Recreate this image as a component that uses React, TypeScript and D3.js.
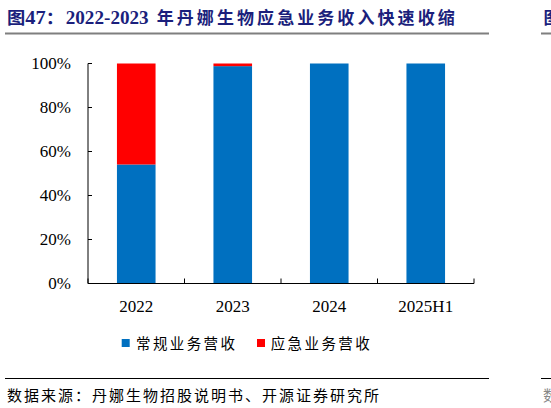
import React from "react";
import * as d3 from "d3";

const categories = ["2022", "2023", "2024", "2025H1"];
const regularShare = [54.1, 98.8, 100, 100];
const emergencyShare = [45.9, 1.2, 0, 0];
const yTicks = [0, 20, 40, 60, 80, 100];
const seriesNames = ["常规业务营收", "应急业务营收"];
const seriesColors = ["#0070C0", "#FF0000"];

const W = 551;
const H = 408;
const serif = "'Liberation Serif', 'Times New Roman', serif";
const cjk = "'Noto Sans CJK SC', 'Noto Sans', sans-serif";

export default function App() {
  const x = d3.scaleBand<string>().domain(categories).range([88, 474]).padding(0);
  const y = d3.scaleLinear().domain([0, 100]).range([283.5, 63.5]);
  const rows = categories.map((c, i) => ({ cat: c, regular: regularShare[i], emergency: emergencyShare[i] }));
  const stack = d3.stack<any>().keys(["regular", "emergency"]);
  const layers = stack(rows);
  const bw = x.bandwidth() * 0.4;
  const boundaries = [...categories.map((c) => x(c) as number), 474];

  return (
    <svg width={W} height={H} style={{ position: "fixed", left: 0, top: 0, background: "#fff" }}>
      <rect x={0} y={0} width={W} height={H} fill="#fff" />
      {/* Title */}
      <text x={7} y={23.5} fill="#1B1F7C" fontFamily={cjk} fontWeight={700} fontSize={17} textLength={57} lengthAdjust="spacingAndGlyphs">
        图<tspan fontFamily={serif} fontSize={19}>47</tspan>：
      </text>
      <text x={65.7} y={23.5} fill="#1B1F7C" fontFamily={serif} fontWeight={700} fontSize={19} textLength={83} lengthAdjust="spacingAndGlyphs">
        2022-2023
      </text>
      <text x={156.7} y={23.5} fill="#1B1F7C" fontFamily={cjk} fontWeight={700} fontSize={17} textLength={298} lengthAdjust="spacing">
        年丹娜生物应急业务收入快速收缩
      </text>
      <rect x={5} y={32.5} width={484} height={2} fill="#7F7F7F" />
      {/* fragment of neighbouring chart */}
      <text x={543.5} y={23.5} fill="#1B1F7C" fontFamily={cjk} fontWeight={700} fontSize={17}>图</text>
      <rect x={541} y={32.5} width={12} height={2} fill="#7F7F7F" />

      {/* Bars */}
      {layers.map((layer, li) => (
        <g key={layer.key} fill={seriesColors[li]}>
          {layer.map((d, i) => {
            const h = y(d[0]) - y(d[1]);
            if (h <= 0) return null;
            return (
              <rect
                key={i}
                x={(x(categories[i]) as number) + (x.bandwidth() - bw) / 2}
                y={y(d[1])}
                width={bw}
                height={h}
              />
            );
          })}
        </g>
      ))}

      {/* Axes */}
      <line x1={88} x2={88} y1={63.5} y2={283.5} stroke="#000" strokeWidth={1} />
      <line x1={88} x2={474} y1={283.5} y2={283.5} stroke="#000" strokeWidth={1} />
      {yTicks.map((t) => (
        <g key={t}>
          <line x1={88} x2={92} y1={y(t)} y2={y(t)} stroke="#000" strokeWidth={1} />
          <text x={71} y={y(t) + 5.5} textAnchor="end" fontFamily={serif} fontSize={17} fill="#000">
            {t}%
          </text>
        </g>
      ))}
      {boundaries.map((b, i) => (
        <line key={i} x1={b} x2={b} y1={283.5} y2={278.5} stroke="#000" strokeWidth={1} />
      ))}
      {categories.map((c) => (
        <text key={c} x={(x(c) as number) + x.bandwidth() / 2} y={311.5} textAnchor="middle" fontFamily={serif} fontSize={17} fill="#000">
          {c}
        </text>
      ))}

      {/* Legend */}
      <rect x={121.7} y={339} width={8} height={8} fill={seriesColors[0]} />
      <text x={136} y={348.5} fontFamily={cjk} fontSize={14.5} fill="#000" textLength={99} lengthAdjust="spacing">
        {seriesNames[0]}
      </text>
      <rect x={257} y={339} width={8} height={8} fill={seriesColors[1]} />
      <text x={270.7} y={348.5} fontFamily={cjk} fontSize={14.5} fill="#000" textLength={99} lengthAdjust="spacing">
        {seriesNames[1]}
      </text>

      {/* Source */}
      <rect x={5} y={378} width={484} height={1} fill="#000" />
      <rect x={541} y={378} width={12} height={1} fill="#000" />
      <text x={7} y={400.5} fontFamily={cjk} fontSize={15} fill="#000" textLength={372} lengthAdjust="spacing">
        数据来源：丹娜生物招股说明书、开源证券研究所
      </text>
      <text x={543} y={400.5} fontFamily={cjk} fontSize={15} fill="#888">数</text>
    </svg>
  );
}
